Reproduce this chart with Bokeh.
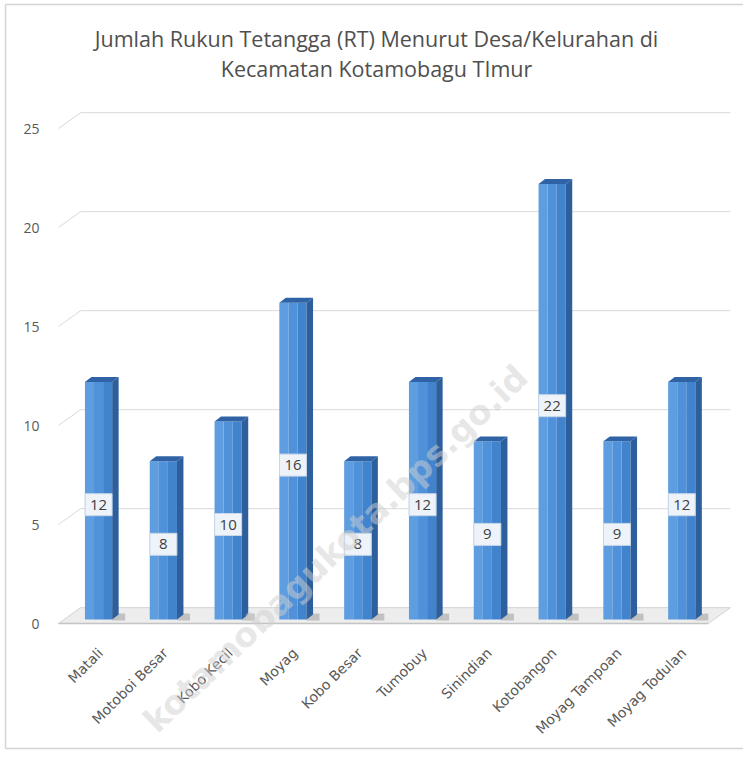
import numpy as np
from bokeh.plotting import figure
from bokeh.models import Label, FixedTicker, ColumnDataSource
from bokeh.core.properties import value
from bokeh.embed import file_html
from bokeh.resources import INLINE

categories = ["Matali", "Motoboi Besar", "Kobo Kecil", "Moyag", "Kobo Besar",
              "Tumobuy", "Sinindian", "Kotobangon", "Moyag Tampoan", "Moyag Todulan"]
values = [12, 8, 10, 16, 8, 12, 9, 22, 9, 12]
y_ticks = [0, 5, 10, 15, 20, 25]
title_lines = ["Jumlah Rukun Tetangga (RT) Menurut Desa/Kelurahan di",
               "Kecamatan Kotamobagu TImur"]
watermark = "kotamobagukota.bps.go.id"

x = np.arange(len(categories), dtype=float)
v = np.array(values, dtype=float)

# geometry (style) parameters
depth_x = 0.10
depth_y = 0.25
half_w = 0.21
x_shift = -0.03
base = 0.2
wall_dx = 0.34
wall_dy = 0.8
x_left = -0.648
x_right = 9.72

W, H = 743, 751
px_x, px_y = 64.8, 19.8
x0 = -100 / px_x
y1 = 623 / px_y
p = figure(width=W, height=H, x_range=(x0, x0 + W / px_x), y_range=(y1 - H / px_y, y1),
           output_backend="svg", toolbar_location=None, title=None,
           min_border_left=0, min_border_right=0, min_border_top=0, min_border_bottom=0)
p.outline_line_color = None
p.xgrid.visible = False
p.ygrid.visible = False
p.background_fill_color = "white"
p.border_fill_color = "white"

# chart border (left / top / bottom)
bx = (5 - 100) / px_x
by_top = (623 - 4) / px_y
by_bot = (623 - 748) / px_y
p.segment(x0=[bx, bx, bx], y0=[by_bot, by_top, by_bot], x1=[bx, x0 + W / px_x, x0 + W / px_x],
          y1=[by_top, by_top, by_bot], line_color="#d4d4d4", line_width=1.5)

# back-wall gridlines
gv = np.array(y_ticks[1:], dtype=float)
p.segment(x0=np.full(len(gv), x_left), y0=gv, x1=np.full(len(gv), x_left + wall_dx), y1=gv + wall_dy,
          line_color="#d9d9d9", line_width=1)
p.segment(x0=np.full(len(gv), x_left + wall_dx), y0=gv + wall_dy, x1=np.full(len(gv), x_right), y1=gv + wall_dy,
          line_color="#d9d9d9", line_width=1)

# floor
p.patch([x_left, x_left + wall_dx, x_right, x_right - wall_dx],
        [0, wall_dy, wall_dy, 0], fill_color="#ededed", line_color="#d2d2d2", line_width=1)
p.segment(x0=[x_left], y0=[0], x1=[x_right - wall_dx], y1=[0], line_color="#c4c4c4", line_width=1.5)

# bar shadows on floor
sx = x + x_shift
p.quad(left=sx + half_w, right=sx + half_w + 0.2, bottom=np.full(len(v), base - 0.05),
       top=np.full(len(v), base + 0.3), fill_color="#8c8c8c", fill_alpha=0.45, line_color=None)

# front faces (3 strips for a gradient feel)
edges = [-half_w, -half_w / 3, half_w / 3, half_w]
colors = ["#5e9ee0", "#5092da", "#4283cd"]
for i in range(3):
    p.quad(left=sx + edges[i], right=sx + edges[i + 1], bottom=np.full(len(v), base), top=v + base,
           fill_color=colors[i], line_color=None)

# side faces
side_xs = [[c + half_w, c + half_w + depth_x, c + half_w + depth_x, c + half_w] for c in sx]
side_ys = [[base, base + depth_y, val + base + depth_y, val + base] for val in v]
p.patches(side_xs, side_ys, fill_color="#2d5f9c", line_color=None)

# top faces
top_xs = [[c - half_w, c - half_w + depth_x, c + half_w + depth_x, c + half_w] for c in sx]
top_ys = [[val + base, val + base + depth_y, val + base + depth_y, val + base] for val in v]
p.patches(top_xs, top_ys, fill_color="#2f63a6", line_color=None)

# value labels
src = ColumnDataSource(dict(x=sx, y=v / 2, t=[str(int(a)) for a in values]))
p.rect(x="x", y="y", width=27, height=22, width_units="screen", height_units="screen",
       source=src, fill_color="#eef3fa", line_color="#c8d6e8", line_width=1)
p.text(x="x", y="y", text="t", source=src, text_align="center", text_baseline="middle",
       text_font=value("Open Sans"), text_font_size="15px", text_color="#404040")

# axes (placed inside the full-canvas frame)
p.yaxis.fixed_location = (55 - 100) / px_x
p.yaxis.ticker = FixedTicker(ticks=y_ticks)
p.yaxis.axis_line_color = None
p.yaxis.major_tick_line_color = None
p.yaxis.minor_tick_line_color = None
p.yaxis.major_label_standoff = 10
p.yaxis.major_label_text_font = "Open Sans"
p.yaxis.major_label_text_font_size = "14px"
p.yaxis.major_label_text_color = "#595959"

p.xaxis.fixed_location = -(640 - 623) / px_y
p.xaxis.ticker = FixedTicker(ticks=list(x))
p.xaxis.major_label_overrides = {i: c for i, c in enumerate(categories)}
p.xaxis.major_label_orientation = np.pi / 4
p.xaxis.axis_line_color = None
p.xaxis.major_tick_line_color = None
p.xaxis.minor_tick_line_color = None
p.xaxis.major_label_standoff = 4
p.xaxis.major_label_text_font = "DejaVu Sans"
p.xaxis.major_label_text_font_size = "14px"
p.xaxis.major_label_text_color = "#595959"

# title
for ty, line in zip([(623 - 38) / px_y, (623 - 68) / px_y], title_lines):
    p.add_layout(Label(x=(376 - 100) / px_x, y=ty, text=line, text_align="center", text_baseline="middle",
                       text_font="Open Sans", text_font_size="21.5px", text_color="#4f4f4f"))

# watermark
p.add_layout(Label(x=(335 - 100) / px_x, y=(623 - 548) / px_y, text=watermark, angle=0.76,
                   text_align="center", text_baseline="middle", text_font="DejaVu Sans",
                   text_font_style="bold", text_font_size="34px", text_color="#cfcfcf", text_alpha=0.5))

open("out.html", "w").write(file_html(p, INLINE))
